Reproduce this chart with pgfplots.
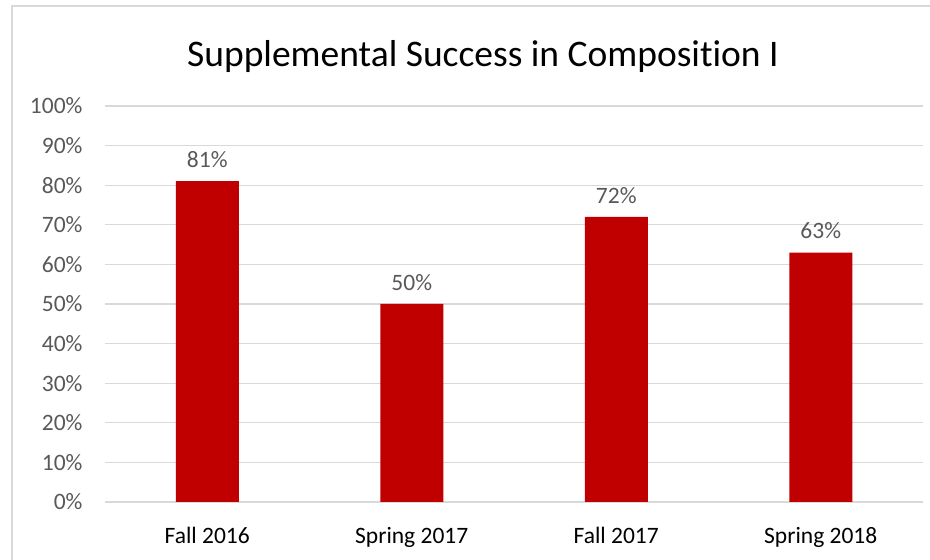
\documentclass[border=0pt]{standalone}
\usepackage{pgfplots}
\pgfplotsset{compat=1.18}
\usepackage{fontspec}
\setmainfont{Carlito}[Ligatures=NoCommon]
\definecolor{barred}{HTML}{C00000}
\definecolor{gridgray}{HTML}{D9D9D9}
\definecolor{labelgray}{HTML}{595959}
\begin{document}
\begin{tikzpicture}[x=1pt,y=1pt]
\useasboundingbox (0,0) rectangle (930,560);
% chart frame (only left and top edges visible in the crop)
\draw[gridgray, line width=1.5pt] (12,0) -- (12,554) -- (930,554);
\node[font=\fontsize{37.5}{42}\selectfont, text=black] at (483,503) {Supplemental Success in Composition I};
\begin{axis}[
    at={(105pt,58pt)}, anchor=south west,
    scale only axis,
    width=818pt, height=396pt,
    xmin=-0.5, xmax=3.5,
    ymin=0, ymax=100,
    axis lines=left,
    axis line style={draw=none},
    ymajorgrids,
    grid style={gridgray, line width=1.2pt},
    ytick={0,10,...,100},
    yticklabel={\pgfmathprintnumber{\tick}\%},
    xtick={0,1,2,3},
    xticklabels={Fall 2016, Spring 2017, Fall 2017, Spring 2018},
    major tick length=0pt,
    tick label style={font=\fontsize{23.5}{26}\selectfont},
    yticklabel style={text=labelgray, xshift=-19pt},
    xticklabel style={text=black, yshift=-22pt},
    /pgf/number format/assume math mode=true,
    ybar, bar width=63pt,
    nodes near coords={\pgfmathprintnumber{\pgfplotspointmeta}\%},
    nodes near coords style={font=\fontsize{23.5}{26}\selectfont, text=labelgray, yshift=10pt},
    clip=false,
]
\addplot[fill=barred, draw=none] coordinates {(0,81) (1,50) (2,72) (3,63)};
\end{axis}
\end{tikzpicture}
\end{document}
